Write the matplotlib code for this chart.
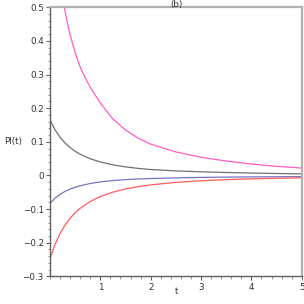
import matplotlib
matplotlib.use("Agg")
import matplotlib.pyplot as plt
from matplotlib.ticker import MultipleLocator

# values
t = [0, 0.1, 0.2, 0.3, 0.4, 0.5, 0.6, 0.8, 1.0, 1.25, 1.5, 1.75, 2.0,
     2.5, 3.0, 3.5, 4.0, 4.5, 5.0]
gray = [0.165, 0.1356, 0.1134, 0.0963, 0.0828, 0.0719, 0.0630, 0.0496,
        0.0400, 0.0315, 0.0255, 0.0210, 0.0176, 0.0135, 0.0108, 0.0088,
        0.0072, 0.0058, 0.0047]
blue = [-0.083, -0.0676, -0.0561, -0.0473, -0.0405, -0.0350, -0.0306,
        -0.0239, -0.0192, -0.0152, -0.0124, -0.0104, -0.0092, -0.0072,
        -0.0058, -0.0049, -0.0043, -0.0039, -0.0035]
red = [-0.247, -0.2047, -0.1724, -0.1472, -0.1271, -0.1109, -0.0976,
       -0.0773, -0.0627, -0.0496, -0.0402, -0.0333, -0.0280, -0.0206,
       -0.0158, -0.0125, -0.0101, -0.0084, -0.0070]

t_m = [0.25, 0.3, 0.35, 0.4, 0.5, 0.6, 0.7, 0.8, 1.0, 1.25, 1.5, 1.75,
       2.0, 2.5, 3.0, 3.5, 4.0, 4.5, 5.0]
magenta = [0.53, 0.487, 0.45, 0.418, 0.365, 0.322, 0.290, 0.262, 0.215,
           0.168, 0.135, 0.111, 0.093, 0.070, 0.054, 0.043, 0.034, 0.027,
           0.022]

fig = plt.figure(figsize=(3.04, 3.04), dpi=100)
ax = fig.add_axes([0.1645, 0.091, 0.828, 0.885])

ax.plot(t_m, magenta, color="#ff5cc4", lw=0.9)
ax.plot(t, gray, color="#707070", lw=0.9)
ax.plot(t, blue, color="#7474c4", lw=0.9)
ax.plot(t, red, color="#ff5c5c", lw=0.9)

ax.set_xlim(0, 5)
ax.set_ylim(-0.3, 0.5)
ax.xaxis.set_minor_locator(MultipleLocator(0.2))
ax.yaxis.set_minor_locator(MultipleLocator(0.02))
ax.set_xticks([1, 2, 3, 4, 5])
ax.set_xticklabels(["1", "2", "3", "4", "5"])
yt = [-0.3, -0.2, -0.1, 0, 0.1, 0.2, 0.3, 0.4, 0.5]
ax.set_yticks(yt)
ax.set_yticklabels(["\u22120.3", "\u22120.2", "\u22120.1", "0", "0.1", "0.2",
                    "0.3", "0.4", "0.5"])

for s in ["top", "right"]:
    ax.spines[s].set_color("#b0b0b0")
    ax.spines[s].set_linewidth(1.6)
for s in ["left", "bottom"]:
    ax.spines[s].set_color("#606060")
    ax.spines[s].set_linewidth(1.0)

ax.tick_params(which="major", length=3, width=0.8, color="#606060",
               labelsize=6.3, labelcolor="#333333", pad=1.5)
ax.tick_params(which="minor", length=1.8, width=0.6, color="#808080")

fig.text(0.579, 0.985, "(b)", fontsize=6.3, color="#333333",
         ha="center", va="center")
fig.text(0.579, 0.042, "t", fontsize=6.3, color="#333333",
         ha="center", va="center")
fig.text(0.012, 0.533, "PI(t)", fontsize=6.3, color="#333333",
         ha="left", va="center")

fig.savefig("out.png", dpi=100)
